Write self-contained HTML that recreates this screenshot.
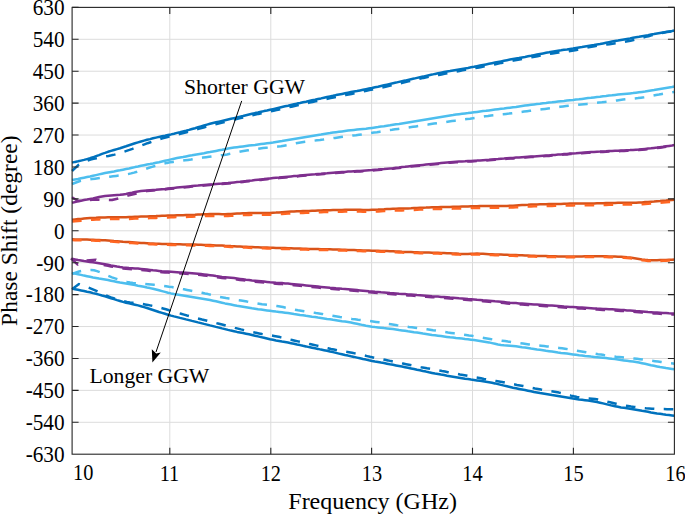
<!DOCTYPE html>
<html><head><meta charset="utf-8"><style>
html,body{margin:0;padding:0;background:#fff;width:685px;height:515px;overflow:hidden}
svg{display:block;font-family:"Liberation Serif",serif}
</style></head><body>
<svg width="685" height="515" viewBox="0 0 685 515">
<rect width="685" height="515" fill="#fff"/>
<g stroke="#dcdcdc" stroke-width="1" fill="none">
<line x1="72.1" y1="422.29" x2="674.4" y2="422.29"/>
<line x1="72.1" y1="390.37" x2="674.4" y2="390.37"/>
<line x1="72.1" y1="358.46" x2="674.4" y2="358.46"/>
<line x1="72.1" y1="326.54" x2="674.4" y2="326.54"/>
<line x1="72.1" y1="294.63" x2="674.4" y2="294.63"/>
<line x1="72.1" y1="262.71" x2="674.4" y2="262.71"/>
<line x1="72.1" y1="230.80" x2="674.4" y2="230.80"/>
<line x1="72.1" y1="198.89" x2="674.4" y2="198.89"/>
<line x1="72.1" y1="166.97" x2="674.4" y2="166.97"/>
<line x1="72.1" y1="135.06" x2="674.4" y2="135.06"/>
<line x1="72.1" y1="103.14" x2="674.4" y2="103.14"/>
<line x1="72.1" y1="71.23" x2="674.4" y2="71.23"/>
<line x1="72.1" y1="39.31" x2="674.4" y2="39.31"/>
<line x1="72.1" y1="7.40" x2="674.4" y2="7.40"/>
<line x1="169.8" y1="7.4" x2="169.8" y2="454.2"/>
<line x1="270.8" y1="7.4" x2="270.8" y2="454.2"/>
<line x1="371.6" y1="7.4" x2="371.6" y2="454.2"/>
<line x1="472.5" y1="7.4" x2="472.5" y2="454.2"/>
<line x1="573.4" y1="7.4" x2="573.4" y2="454.2"/>
</g>
<g fill="none" stroke-width="2.5" stroke-linejoin="round" stroke-linecap="butt">
<polyline points="72.0,219.7 75.0,219.4 78.0,219.1 81.0,218.9 84.0,218.6 87.0,218.3 90.0,218.1 93.0,217.9 96.0,217.8 99.0,217.6 102.0,217.5 105.0,217.4 108.0,217.3 111.0,217.3 114.0,217.3 117.0,217.3 120.0,217.3 123.0,217.2 126.0,217.2 129.0,217.1 132.0,217.0 135.0,216.8 138.0,216.7 141.0,216.6 144.0,216.5 147.0,216.4 150.0,216.3 153.0,216.2 156.0,216.1 159.0,215.9 162.0,215.8 165.0,215.7 168.0,215.6 171.0,215.5 174.0,215.4 177.0,215.3 180.0,215.3 183.0,215.2 186.0,215.1 189.0,215.0 192.0,214.9 195.0,214.8 198.0,214.6 201.0,214.5 204.0,214.3 207.0,214.2 210.0,214.1 213.0,214.1 216.0,214.1 219.0,214.1 222.0,214.2 225.0,214.2 228.0,214.1 231.0,214.0 234.0,213.8 237.0,213.6 240.0,213.4 243.0,213.3 246.0,213.2 249.0,213.1 252.0,213.0 255.0,213.0 258.0,213.0 261.0,213.0 264.0,213.0 267.0,212.9 270.0,212.9 273.0,212.7 276.0,212.6 279.0,212.4 282.0,212.2 285.0,212.0 288.0,211.8 291.0,211.6 294.0,211.5 297.0,211.3 300.0,211.2 303.0,211.1 306.0,211.0 309.0,210.9 312.0,210.8 315.0,210.7 318.0,210.6 321.0,210.5 324.0,210.3 327.0,210.3 330.0,210.2 333.0,210.1 336.0,210.0 339.0,209.9 342.0,209.9 345.0,209.8 348.0,209.8 351.0,209.8 354.0,209.8 357.0,209.8 360.0,209.8 363.0,209.9 366.0,209.9 369.0,209.9 372.0,209.8 375.0,209.7 378.0,209.6 381.0,209.4 384.0,209.3 387.0,209.1 390.0,209.0 393.0,208.8 396.0,208.7 399.0,208.6 402.0,208.6 405.0,208.5 408.0,208.4 411.0,208.3 414.0,208.1 417.0,208.0 420.0,207.8 423.0,207.7 426.0,207.6 429.0,207.4 432.0,207.3 435.0,207.2 438.0,207.2 441.0,207.1 444.0,207.0 447.0,207.0 450.0,206.9 453.0,206.8 456.0,206.7 459.0,206.7 462.0,206.6 465.0,206.5 468.0,206.4 471.0,206.3 474.0,206.2 477.0,206.2 480.0,206.1 483.0,206.0 486.0,206.0 489.0,206.0 492.0,205.9 495.0,205.9 498.0,205.9 501.0,205.9 504.0,205.9 507.0,205.9 510.0,205.8 513.0,205.7 516.0,205.5 519.0,205.3 522.0,205.1 525.0,204.9 528.0,204.8 531.0,204.6 534.0,204.5 537.0,204.4 540.0,204.3 543.0,204.3 546.0,204.2 549.0,204.1 552.0,204.1 555.0,204.0 558.0,203.9 561.0,203.9 564.0,203.8 567.0,203.7 570.0,203.6 573.0,203.6 576.0,203.5 579.0,203.5 582.0,203.5 585.0,203.5 588.0,203.4 591.0,203.4 594.0,203.4 597.0,203.3 600.0,203.3 603.0,203.2 606.0,203.1 609.0,203.0 612.0,202.9 615.0,202.9 618.0,202.8 621.0,202.8 624.0,202.8 627.0,202.8 630.0,202.8 633.0,202.7 636.0,202.7 639.0,202.5 642.0,202.4 645.0,202.1 648.0,201.9 651.0,201.7 654.0,201.5 657.0,201.2 660.0,201.0 663.0,200.7 666.0,200.5 669.0,200.2 672.0,199.9 674.5,199.7" stroke="#D95319"/>
<polyline points="72.0,221.5 75.0,221.2 78.0,220.9 81.0,220.7 84.0,220.4 87.0,220.1 90.0,219.9 93.0,219.7 96.0,219.6 99.0,219.4 102.0,219.3 105.0,219.2 108.0,219.1 111.0,219.1 114.0,219.1 117.0,219.1 120.0,219.1 123.0,219.0 126.0,219.0 129.0,218.9 132.0,218.8 135.0,218.6 138.0,218.5 141.0,218.4 144.0,218.3 147.0,218.2 150.0,218.1 153.0,218.0 156.0,217.9 159.0,217.7 162.0,217.6 165.0,217.5 168.0,217.4 171.0,217.3 174.0,217.2 177.0,217.1 180.0,217.1 183.0,217.0 186.0,216.9 189.0,216.8 192.0,216.7 195.0,216.6 198.0,216.4 201.0,216.3 204.0,216.1 207.0,216.0 210.0,215.9 213.0,215.9 216.0,215.9 219.0,215.9 222.0,216.0 225.0,216.0 228.0,215.9 231.0,215.8 234.0,215.6 237.0,215.4 240.0,215.2 243.0,215.1 246.0,215.0 249.0,214.9 252.0,214.8 255.0,214.8 258.0,214.8 261.0,214.8 264.0,214.8 267.0,214.7 270.0,214.7 273.0,214.5 276.0,214.4 279.0,214.2 282.0,214.0 285.0,213.8 288.0,213.6 291.0,213.4 294.0,213.3 297.0,213.1 300.0,213.0 303.0,212.9 306.0,212.8 309.0,212.7 312.0,212.6 315.0,212.5 318.0,212.4 321.0,212.3 324.0,212.1 327.0,212.1 330.0,212.0 333.0,211.9 336.0,211.8 339.0,211.7 342.0,211.7 345.0,211.6 348.0,211.6 351.0,211.6 354.0,211.6 357.0,211.6 360.0,211.6 363.0,211.7 366.0,211.7 369.0,211.7 372.0,211.6 375.0,211.5 378.0,211.4 381.0,211.2 384.0,211.1 387.0,210.9 390.0,210.8 393.0,210.6 396.0,210.5 399.0,210.4 402.0,210.4 405.0,210.3 408.0,210.2 411.0,210.1 414.0,209.9 417.0,209.8 420.0,209.6 423.0,209.5 426.0,209.4 429.0,209.2 432.0,209.1 435.0,209.0 438.0,209.0 441.0,208.9 444.0,208.8 447.0,208.8 450.0,208.7 453.0,208.6 456.0,208.5 459.0,208.5 462.0,208.4 465.0,208.3 468.0,208.2 471.0,208.1 474.0,208.0 477.0,208.0 480.0,207.9 483.0,207.8 486.0,207.8 489.0,207.8 492.0,207.7 495.0,207.7 498.0,207.7 501.0,207.7 504.0,207.7 507.0,207.7 510.0,207.6 513.0,207.5 516.0,207.3 519.0,207.1 522.0,206.9 525.0,206.7 528.0,206.6 531.0,206.4 534.0,206.3 537.0,206.2 540.0,206.1 543.0,206.1 546.0,206.0 549.0,205.9 552.0,205.9 555.0,205.8 558.0,205.7 561.0,205.7 564.0,205.6 567.0,205.5 570.0,205.4 573.0,205.4 576.0,205.3 579.0,205.3 582.0,205.3 585.0,205.3 588.0,205.2 591.0,205.2 594.0,205.2 597.0,205.1 600.0,205.1 603.0,205.0 606.0,204.9 609.0,204.8 612.0,204.7 615.0,204.7 618.0,204.6 621.0,204.6 624.0,204.6 627.0,204.6 630.0,204.6 633.0,204.5 636.0,204.5 639.0,204.3 642.0,204.2 645.0,203.9 648.0,203.7 651.0,203.5 654.0,203.3 657.0,203.0 660.0,202.8 663.0,202.5 666.0,202.3 669.0,202.0 672.0,201.7 674.5,201.5" stroke="#FF6622" stroke-dasharray="9.6 9.4"/>
<polyline points="72.0,239.3 75.0,239.4 78.0,239.4 81.0,239.5 84.0,239.6 87.0,239.6 90.0,239.7 93.0,239.8 96.0,239.9 99.0,240.0 102.0,240.2 105.0,240.3 108.0,240.5 111.0,240.7 114.0,241.0 117.0,241.2 120.0,241.4 123.0,241.7 126.0,241.9 129.0,242.1 132.0,242.3 135.0,242.5 138.0,242.7 141.0,242.9 144.0,243.0 147.0,243.2 150.0,243.4 153.0,243.5 156.0,243.7 159.0,243.8 162.0,243.9 165.0,244.0 168.0,244.0 171.0,244.1 174.0,244.2 177.0,244.2 180.0,244.3 183.0,244.4 186.0,244.4 189.0,244.5 192.0,244.6 195.0,244.6 198.0,244.7 201.0,244.8 204.0,244.9 207.0,245.0 210.0,245.1 213.0,245.2 216.0,245.4 219.0,245.5 222.0,245.6 225.0,245.8 228.0,245.9 231.0,246.1 234.0,246.2 237.0,246.4 240.0,246.5 243.0,246.7 246.0,246.8 249.0,247.0 252.0,247.1 255.0,247.2 258.0,247.3 261.0,247.4 264.0,247.5 267.0,247.6 270.0,247.7 273.0,247.8 276.0,247.9 279.0,248.0 282.0,248.1 285.0,248.1 288.0,248.2 291.0,248.3 294.0,248.4 297.0,248.5 300.0,248.6 303.0,248.7 306.0,248.8 309.0,248.9 312.0,249.0 315.0,249.1 318.0,249.1 321.0,249.2 324.0,249.2 327.0,249.2 330.0,249.3 333.0,249.4 336.0,249.5 339.0,249.6 342.0,249.7 345.0,249.8 348.0,249.9 351.0,250.0 354.0,250.1 357.0,250.2 360.0,250.3 363.0,250.4 366.0,250.5 369.0,250.6 372.0,250.7 375.0,250.7 378.0,250.8 381.0,250.9 384.0,251.0 387.0,251.1 390.0,251.2 393.0,251.3 396.0,251.5 399.0,251.6 402.0,251.8 405.0,251.9 408.0,252.0 411.0,252.1 414.0,252.2 417.0,252.3 420.0,252.4 423.0,252.4 426.0,252.5 429.0,252.6 432.0,252.7 435.0,252.7 438.0,252.8 441.0,252.9 444.0,253.0 447.0,253.2 450.0,253.3 453.0,253.4 456.0,253.6 459.0,253.8 462.0,253.9 465.0,254.0 468.0,253.9 471.0,253.8 474.0,253.7 477.0,253.6 480.0,253.7 483.0,253.8 486.0,254.0 489.0,254.2 492.0,254.3 495.0,254.4 498.0,254.5 501.0,254.6 504.0,254.7 507.0,254.8 510.0,254.9 513.0,255.0 516.0,255.1 519.0,255.2 522.0,255.3 525.0,255.5 528.0,255.6 531.0,255.7 534.0,255.8 537.0,255.9 540.0,256.0 543.0,256.0 546.0,256.1 549.0,256.2 552.0,256.3 555.0,256.3 558.0,256.4 561.0,256.4 564.0,256.4 567.0,256.4 570.0,256.4 573.0,256.5 576.0,256.4 579.0,256.4 582.0,256.4 585.0,256.3 588.0,256.3 591.0,256.2 594.0,256.2 597.0,256.2 600.0,256.2 603.0,256.3 606.0,256.3 609.0,256.4 612.0,256.5 615.0,256.6 618.0,256.7 621.0,256.8 624.0,257.0 627.0,257.3 630.0,257.5 633.0,257.9 636.0,258.4 639.0,258.9 642.0,259.4 645.0,259.8 648.0,260.1 651.0,260.2 654.0,260.3 657.0,260.2 660.0,260.1 663.0,260.0 666.0,259.9 669.0,259.8 672.0,259.7 674.5,259.6" stroke="#D95319"/>
<polyline points="72.0,240.1 75.0,240.2 78.0,240.2 81.0,240.3 84.0,240.4 87.0,240.4 90.0,240.5 93.0,240.6 96.0,240.7 99.0,240.8 102.0,241.0 105.0,241.1 108.0,241.3 111.0,241.5 114.0,241.8 117.0,242.0 120.0,242.2 123.0,242.5 126.0,242.7 129.0,242.9 132.0,243.1 135.0,243.3 138.0,243.5 141.0,243.7 144.0,243.8 147.0,244.0 150.0,244.2 153.0,244.3 156.0,244.5 159.0,244.6 162.0,244.7 165.0,244.8 168.0,244.8 171.0,244.9 174.0,245.0 177.0,245.0 180.0,245.1 183.0,245.2 186.0,245.2 189.0,245.3 192.0,245.4 195.0,245.4 198.0,245.5 201.0,245.6 204.0,245.7 207.0,245.8 210.0,245.9 213.0,246.0 216.0,246.2 219.0,246.3 222.0,246.4 225.0,246.6 228.0,246.7 231.0,246.9 234.0,247.0 237.0,247.2 240.0,247.3 243.0,247.5 246.0,247.6 249.0,247.8 252.0,247.9 255.0,248.0 258.0,248.1 261.0,248.2 264.0,248.3 267.0,248.4 270.0,248.5 273.0,248.6 276.0,248.7 279.0,248.8 282.0,248.9 285.0,248.9 288.0,249.0 291.0,249.1 294.0,249.2 297.0,249.3 300.0,249.4 303.0,249.5 306.0,249.6 309.0,249.7 312.0,249.8 315.0,249.9 318.0,249.9 321.0,250.0 324.0,250.0 327.0,250.0 330.0,250.1 333.0,250.2 336.0,250.3 339.0,250.4 342.0,250.5 345.0,250.6 348.0,250.7 351.0,250.8 354.0,250.9 357.0,251.0 360.0,251.1 363.0,251.2 366.0,251.3 369.0,251.4 372.0,251.5 375.0,251.5 378.0,251.6 381.0,251.7 384.0,251.8 387.0,251.9 390.0,252.0 393.0,252.1 396.0,252.3 399.0,252.4 402.0,252.6 405.0,252.7 408.0,252.8 411.0,252.9 414.0,253.0 417.0,253.1 420.0,253.2 423.0,253.2 426.0,253.3 429.0,253.4 432.0,253.5 435.0,253.5 438.0,253.6 441.0,253.7 444.0,253.8 447.0,254.0 450.0,254.1 453.0,254.2 456.0,254.4 459.0,254.6 462.0,254.7 465.0,254.8 468.0,254.7 471.0,254.6 474.0,254.5 477.0,254.4 480.0,254.5 483.0,254.6 486.0,254.8 489.0,255.0 492.0,255.1 495.0,255.2 498.0,255.3 501.0,255.4 504.0,255.5 507.0,255.6 510.0,255.7 513.0,255.8 516.0,255.9 519.0,256.0 522.0,256.1 525.0,256.3 528.0,256.4 531.0,256.5 534.0,256.6 537.0,256.7 540.0,256.8 543.0,256.8 546.0,256.9 549.0,257.0 552.0,257.1 555.0,257.1 558.0,257.2 561.0,257.2 564.0,257.2 567.0,257.2 570.0,257.2 573.0,257.3 576.0,257.2 579.0,257.2 582.0,257.2 585.0,257.1 588.0,257.1 591.0,257.0 594.0,257.0 597.0,257.0 600.0,257.0 603.0,257.1 606.0,257.1 609.0,257.2 612.0,257.3 615.0,257.4 618.0,257.5 621.0,257.6 624.0,257.8 627.0,258.1 630.0,258.3 633.0,258.7 636.0,259.2 639.0,259.7 642.0,260.2 645.0,260.6 648.0,260.9 651.0,261.0 654.0,261.1 657.0,261.0 660.0,260.9 663.0,260.8 666.0,260.7 669.0,260.6 672.0,260.5 674.5,260.4" stroke="#FF6622" stroke-dasharray="9.6 9.4"/>
<polyline points="72.0,202.8 75.0,202.1 78.0,201.4 81.0,200.7 84.0,200.1 87.0,199.6 90.0,199.0 93.0,198.4 96.0,197.7 99.0,197.1 102.0,196.5 105.0,196.0 108.0,195.7 111.0,195.4 114.0,195.2 117.0,195.0 120.0,194.8 123.0,194.4 126.0,194.0 129.0,193.3 132.0,192.7 135.0,192.0 138.0,191.4 141.0,191.0 144.0,190.7 147.0,190.4 150.0,190.2 153.0,190.0 156.0,189.8 159.0,189.5 162.0,189.2 165.0,188.9 168.0,188.5 171.0,188.2 174.0,187.9 177.0,187.6 180.0,187.3 183.0,187.0 186.0,186.7 189.0,186.4 192.0,186.1 195.0,185.8 198.0,185.6 201.0,185.3 204.0,185.0 207.0,184.7 210.0,184.4 213.0,184.2 216.0,183.9 219.0,183.7 222.0,183.5 225.0,183.2 228.0,183.0 231.0,182.7 234.0,182.4 237.0,182.1 240.0,181.8 243.0,181.4 246.0,181.1 249.0,180.7 252.0,180.4 255.0,180.0 258.0,179.7 261.0,179.4 264.0,179.1 267.0,178.7 270.0,178.4 273.0,178.1 276.0,177.8 279.0,177.6 282.0,177.3 285.0,177.0 288.0,176.7 291.0,176.4 294.0,176.1 297.0,175.9 300.0,175.6 303.0,175.3 306.0,175.0 309.0,174.7 312.0,174.4 315.0,174.2 318.0,173.9 321.0,173.7 324.0,173.4 327.0,173.2 330.0,172.9 333.0,172.7 336.0,172.5 339.0,172.3 342.0,172.1 345.0,171.9 348.0,171.6 351.0,171.5 354.0,171.3 357.0,171.1 360.0,170.9 363.0,170.7 366.0,170.5 369.0,170.3 372.0,170.1 375.0,169.8 378.0,169.6 381.0,169.3 384.0,169.1 387.0,168.8 390.0,168.5 393.0,168.2 396.0,167.8 399.0,167.5 402.0,167.1 405.0,166.8 408.0,166.4 411.0,166.1 414.0,165.8 417.0,165.5 420.0,165.2 423.0,164.9 426.0,164.6 429.0,164.3 432.0,164.0 435.0,163.7 438.0,163.4 441.0,163.1 444.0,162.8 447.0,162.5 450.0,162.2 453.0,162.0 456.0,161.8 459.0,161.6 462.0,161.4 465.0,161.3 468.0,161.1 471.0,160.9 474.0,160.7 477.0,160.6 480.0,160.4 483.0,160.2 486.0,160.0 489.0,159.8 492.0,159.5 495.0,159.3 498.0,159.1 501.0,158.8 504.0,158.6 507.0,158.3 510.0,158.1 513.0,157.9 516.0,157.6 519.0,157.4 522.0,157.2 525.0,157.0 528.0,156.8 531.0,156.6 534.0,156.4 537.0,156.2 540.0,156.0 543.0,155.8 546.0,155.6 549.0,155.4 552.0,155.1 555.0,154.9 558.0,154.6 561.0,154.4 564.0,154.1 567.0,153.9 570.0,153.6 573.0,153.4 576.0,153.2 579.0,152.9 582.0,152.7 585.0,152.5 588.0,152.3 591.0,152.1 594.0,151.9 597.0,151.7 600.0,151.6 603.0,151.4 606.0,151.3 609.0,151.1 612.0,151.0 615.0,150.8 618.0,150.7 621.0,150.5 624.0,150.4 627.0,150.2 630.0,150.1 633.0,149.9 636.0,149.7 639.0,149.5 642.0,149.2 645.0,148.9 648.0,148.6 651.0,148.3 654.0,147.9 657.0,147.6 660.0,147.2 663.0,146.8 666.0,146.3 669.0,145.9 672.0,145.5 674.5,145.1" stroke="#7E2F8E"/>
<polyline points="72.0,197.3 78.0,201.0 95.0,199.5 112.0,200.0 120.0,198.0 128.0,195.6 147.0,190.9 150.0,190.7 153.0,190.5 156.0,190.3 159.0,190.0 162.0,189.7 165.0,189.4 168.0,189.0 171.0,188.7 174.0,188.4 177.0,188.1 180.0,187.8 183.0,187.5 186.0,187.2 189.0,186.9 192.0,186.6 195.0,186.3 198.0,186.1 201.0,185.8 204.0,185.5 207.0,185.2 210.0,184.9 213.0,184.7 216.0,184.4 219.0,184.2 222.0,184.0 225.0,183.7 228.0,183.5 231.0,183.2 234.0,182.9 237.0,182.6 240.0,182.3 243.0,181.9 246.0,181.6 249.0,181.2 252.0,180.9 255.0,180.5 258.0,180.2 261.0,179.9 264.0,179.6 267.0,179.2 270.0,178.9 273.0,178.6 276.0,178.3 279.0,178.1 282.0,177.8 285.0,177.5 288.0,177.2 291.0,176.9 294.0,176.6 297.0,176.4 300.0,176.1 303.0,175.8 306.0,175.5 309.0,175.2 312.0,174.9 315.0,174.7 318.0,174.4 321.0,174.2 324.0,173.9 327.0,173.7 330.0,173.4 333.0,173.2 336.0,173.0 339.0,172.8 342.0,172.6 345.0,172.4 348.0,172.1 351.0,172.0 354.0,171.8 357.0,171.6 360.0,171.4 363.0,171.2 366.0,171.0 369.0,170.8 372.0,170.6 375.0,170.3 378.0,170.1 381.0,169.8 384.0,169.6 387.0,169.3 390.0,169.0 393.0,168.7 396.0,168.3 399.0,168.0 402.0,167.6 405.0,167.3 408.0,166.9 411.0,166.6 414.0,166.3 417.0,166.0 420.0,165.7 423.0,165.4 426.0,165.1 429.0,164.8 432.0,164.5 435.0,164.2 438.0,163.9 441.0,163.6 444.0,163.3 447.0,163.0 450.0,162.7 453.0,162.5 456.0,162.3 459.0,162.1 462.0,161.9 465.0,161.8 468.0,161.6 471.0,161.4 474.0,161.2 477.0,161.1 480.0,160.9 483.0,160.7 486.0,160.5 489.0,160.3 492.0,160.0 495.0,159.8 498.0,159.6 501.0,159.3 504.0,159.1 507.0,158.8 510.0,158.6 513.0,158.4 516.0,158.1 519.0,157.9 522.0,157.7 525.0,157.5 528.0,157.3 531.0,157.1 534.0,156.9 537.0,156.7 540.0,156.5 543.0,156.3 546.0,156.1 549.0,155.9 552.0,155.6 555.0,155.4 558.0,155.1 561.0,154.9 564.0,154.6 567.0,154.4 570.0,154.1 573.0,153.9 576.0,153.7 579.0,153.4 582.0,153.2 585.0,153.0 588.0,152.8 591.0,152.6 594.0,152.4 597.0,152.2 600.0,152.1 603.0,151.9 606.0,151.8 609.0,151.6 612.0,151.5 615.0,151.3 618.0,151.2 621.0,151.0 624.0,150.9 627.0,150.7 630.0,150.6 633.0,150.4 636.0,150.2 639.0,150.0 642.0,149.7 645.0,149.4 648.0,149.1 651.0,148.8 654.0,148.4 657.0,148.1 660.0,147.7 663.0,147.3 666.0,146.8 669.0,146.4 672.0,146.0 674.5,145.6" stroke="#7E2F8E" stroke-dasharray="9.6 9.4"/>
<polyline points="72.0,258.8 75.0,259.4 78.0,260.0 81.0,260.5 84.0,261.0 87.0,261.4 90.0,261.9 93.0,262.3 96.0,262.8 99.0,263.3 102.0,263.8 105.0,264.3 108.0,264.8 111.0,265.4 114.0,265.9 117.0,266.5 120.0,267.0 123.0,267.4 126.0,267.7 129.0,268.0 132.0,268.2 135.0,268.4 138.0,268.6 141.0,268.9 144.0,269.2 147.0,269.5 150.0,269.9 153.0,270.3 156.0,270.6 159.0,270.9 162.0,271.2 165.0,271.4 168.0,271.6 171.0,271.8 174.0,272.0 177.0,272.2 180.0,272.4 183.0,272.6 186.0,272.8 189.0,273.0 192.0,273.2 195.0,273.5 198.0,273.8 201.0,274.1 204.0,274.4 207.0,274.8 210.0,275.2 213.0,275.6 216.0,276.1 219.0,276.5 222.0,276.9 225.0,277.2 228.0,277.5 231.0,277.8 234.0,278.1 237.0,278.5 240.0,278.9 243.0,279.3 246.0,279.7 249.0,280.0 252.0,280.4 255.0,280.7 258.0,281.0 261.0,281.3 264.0,281.6 267.0,281.9 270.0,282.2 273.0,282.4 276.0,282.7 279.0,282.9 282.0,283.1 285.0,283.4 288.0,283.6 291.0,283.9 294.0,284.2 297.0,284.5 300.0,284.8 303.0,285.1 306.0,285.4 309.0,285.7 312.0,286.0 315.0,286.3 318.0,286.6 321.0,286.9 324.0,287.2 327.0,287.5 330.0,287.8 333.0,288.0 336.0,288.3 339.0,288.5 342.0,288.8 345.0,289.0 348.0,289.2 351.0,289.5 354.0,289.8 357.0,290.1 360.0,290.4 363.0,290.7 366.0,291.0 369.0,291.3 372.0,291.5 375.0,291.8 378.0,292.0 381.0,292.3 384.0,292.5 387.0,292.7 390.0,293.0 393.0,293.2 396.0,293.4 399.0,293.7 402.0,293.9 405.0,294.1 408.0,294.4 411.0,294.6 414.0,294.8 417.0,295.1 420.0,295.3 423.0,295.5 426.0,295.7 429.0,295.9 432.0,296.2 435.0,296.4 438.0,296.6 441.0,296.9 444.0,297.1 447.0,297.3 450.0,297.6 453.0,297.8 456.0,298.0 459.0,298.3 462.0,298.5 465.0,298.7 468.0,299.0 471.0,299.2 474.0,299.4 477.0,299.7 480.0,299.9 483.0,300.2 486.0,300.4 489.0,300.7 492.0,301.0 495.0,301.3 498.0,301.5 501.0,301.8 504.0,302.1 507.0,302.4 510.0,302.7 513.0,302.9 516.0,303.1 519.0,303.4 522.0,303.6 525.0,303.8 528.0,304.0 531.0,304.2 534.0,304.4 537.0,304.6 540.0,304.8 543.0,305.0 546.0,305.2 549.0,305.4 552.0,305.6 555.0,305.8 558.0,306.0 561.0,306.2 564.0,306.5 567.0,306.7 570.0,306.9 573.0,307.1 576.0,307.3 579.0,307.5 582.0,307.6 585.0,307.8 588.0,308.0 591.0,308.2 594.0,308.4 597.0,308.6 600.0,308.7 603.0,308.9 606.0,309.0 609.0,309.2 612.0,309.3 615.0,309.5 618.0,309.7 621.0,309.9 624.0,310.1 627.0,310.4 630.0,310.6 633.0,310.8 636.0,311.1 639.0,311.3 642.0,311.5 645.0,311.7 648.0,312.0 651.0,312.2 654.0,312.4 657.0,312.6 660.0,312.8 663.0,313.0 666.0,313.1 669.0,313.3 672.0,313.4 674.5,313.6" stroke="#7E2F8E"/>
<polyline points="71.0,258.3 77.7,264.6 86.0,260.5 96.0,259.8 102.0,264.8 105.0,265.3 108.0,265.8 111.0,266.4 114.0,266.9 117.0,267.5 120.0,268.0 123.0,268.4 126.0,268.7 129.0,269.0 132.0,269.2 135.0,269.4 138.0,269.6 141.0,269.9 144.0,270.2 147.0,270.5 150.0,270.9 153.0,271.3 156.0,271.6 159.0,271.9 162.0,272.2 165.0,272.4 168.0,272.6 171.0,272.8 174.0,273.0 177.0,273.2 180.0,273.4 183.0,273.6 186.0,273.8 189.0,274.0 192.0,274.2 195.0,274.5 198.0,274.8 201.0,275.1 204.0,275.4 207.0,275.8 210.0,276.2 213.0,276.6 216.0,277.1 219.0,277.5 222.0,277.9 225.0,278.2 228.0,278.5 231.0,278.8 234.0,279.1 237.0,279.5 240.0,279.9 243.0,280.3 246.0,280.7 249.0,281.0 252.0,281.4 255.0,281.7 258.0,282.0 261.0,282.3 264.0,282.6 267.0,282.9 270.0,283.2 273.0,283.4 276.0,283.7 279.0,283.9 282.0,284.1 285.0,284.4 288.0,284.6 291.0,284.9 294.0,285.2 297.0,285.5 300.0,285.8 303.0,286.1 306.0,286.4 309.0,286.7 312.0,287.0 315.0,287.3 318.0,287.6 321.0,287.9 324.0,288.2 327.0,288.5 330.0,288.8 333.0,289.0 336.0,289.3 339.0,289.5 342.0,289.8 345.0,290.0 348.0,290.2 351.0,290.5 354.0,290.8 357.0,291.1 360.0,291.4 363.0,291.7 366.0,292.0 369.0,292.3 372.0,292.5 375.0,292.8 378.0,293.0 381.0,293.3 384.0,293.5 387.0,293.7 390.0,294.0 393.0,294.2 396.0,294.4 399.0,294.7 402.0,294.9 405.0,295.1 408.0,295.4 411.0,295.6 414.0,295.8 417.0,296.1 420.0,296.3 423.0,296.5 426.0,296.7 429.0,296.9 432.0,297.2 435.0,297.4 438.0,297.6 441.0,297.9 444.0,298.1 447.0,298.3 450.0,298.6 453.0,298.8 456.0,299.0 459.0,299.3 462.0,299.5 465.0,299.7 468.0,300.0 471.0,300.2 474.0,300.4 477.0,300.7 480.0,300.9 483.0,301.2 486.0,301.4 489.0,301.7 492.0,302.0 495.0,302.3 498.0,302.5 501.0,302.8 504.0,303.1 507.0,303.4 510.0,303.7 513.0,303.9 516.0,304.1 519.0,304.4 522.0,304.6 525.0,304.8 528.0,305.0 531.0,305.2 534.0,305.4 537.0,305.6 540.0,305.8 543.0,306.0 546.0,306.2 549.0,306.4 552.0,306.6 555.0,306.8 558.0,307.0 561.0,307.2 564.0,307.5 567.0,307.7 570.0,307.9 573.0,308.1 576.0,308.3 579.0,308.5 582.0,308.6 585.0,308.8 588.0,309.0 591.0,309.2 594.0,309.4 597.0,309.6 600.0,309.7 603.0,309.9 606.0,310.0 609.0,310.2 612.0,310.3 615.0,310.5 618.0,310.7 621.0,310.9 624.0,311.1 627.0,311.4 630.0,311.6 633.0,311.8 636.0,312.1 639.0,312.3 642.0,312.5 645.0,312.7 648.0,313.0 651.0,313.2 654.0,313.4 657.0,313.6 660.0,313.8 663.0,314.0 666.0,314.1 669.0,314.3 672.0,314.4 674.5,314.6" stroke="#7E2F8E" stroke-dasharray="9.6 9.4"/>
<polyline points="72.0,180.0 75.0,179.4 78.0,178.9 81.0,178.3 84.0,177.7 87.0,177.1 90.0,176.5 93.0,175.8 96.0,175.1 99.0,174.4 102.0,173.7 105.0,173.1 108.0,172.5 111.0,171.9 114.0,171.4 117.0,170.8 120.0,170.3 123.0,169.7 126.0,169.1 129.0,168.5 132.0,167.8 135.0,167.1 138.0,166.5 141.0,165.8 144.0,165.2 147.0,164.6 150.0,164.1 153.0,163.5 156.0,162.8 159.0,162.2 162.0,161.5 165.0,160.8 168.0,160.1 171.0,159.4 174.0,158.7 177.0,158.1 180.0,157.5 183.0,157.0 186.0,156.4 189.0,155.8 192.0,155.3 195.0,154.7 198.0,154.2 201.0,153.7 204.0,153.2 207.0,152.6 210.0,152.1 213.0,151.5 216.0,150.9 219.0,150.3 222.0,149.8 225.0,149.2 228.0,148.6 231.0,148.1 234.0,147.6 237.0,147.2 240.0,146.8 243.0,146.4 246.0,146.0 249.0,145.6 252.0,145.2 255.0,144.9 258.0,144.5 261.0,144.1 264.0,143.7 267.0,143.3 270.0,142.9 273.0,142.5 276.0,142.0 279.0,141.5 282.0,141.1 285.0,140.6 288.0,140.1 291.0,139.6 294.0,139.1 297.0,138.6 300.0,138.1 303.0,137.6 306.0,137.1 309.0,136.6 312.0,136.1 315.0,135.6 318.0,135.1 321.0,134.6 324.0,134.0 327.0,133.5 330.0,133.1 333.0,132.6 336.0,132.2 339.0,131.8 342.0,131.4 345.0,131.0 348.0,130.6 351.0,130.2 354.0,129.9 357.0,129.6 360.0,129.3 363.0,129.0 366.0,128.7 369.0,128.3 372.0,127.9 375.0,127.5 378.0,127.1 381.0,126.6 384.0,126.2 387.0,125.7 390.0,125.3 393.0,124.8 396.0,124.3 399.0,123.9 402.0,123.4 405.0,122.9 408.0,122.4 411.0,121.9 414.0,121.4 417.0,120.9 420.0,120.4 423.0,119.9 426.0,119.4 429.0,118.9 432.0,118.4 435.0,117.9 438.0,117.4 441.0,116.9 444.0,116.4 447.0,115.9 450.0,115.5 453.0,115.1 456.0,114.6 459.0,114.2 462.0,113.8 465.0,113.4 468.0,113.1 471.0,112.7 474.0,112.3 477.0,111.9 480.0,111.5 483.0,111.1 486.0,110.8 489.0,110.4 492.0,110.0 495.0,109.6 498.0,109.2 501.0,108.8 504.0,108.5 507.0,108.1 510.0,107.7 513.0,107.3 516.0,106.9 519.0,106.4 522.0,106.0 525.0,105.6 528.0,105.2 531.0,104.8 534.0,104.4 537.0,104.0 540.0,103.7 543.0,103.3 546.0,103.0 549.0,102.6 552.0,102.3 555.0,101.9 558.0,101.6 561.0,101.3 564.0,101.0 567.0,100.6 570.0,100.3 573.0,100.0 576.0,99.6 579.0,99.3 582.0,98.9 585.0,98.5 588.0,98.1 591.0,97.8 594.0,97.4 597.0,97.0 600.0,96.7 603.0,96.3 606.0,96.0 609.0,95.6 612.0,95.3 615.0,94.9 618.0,94.6 621.0,94.3 624.0,94.0 627.0,93.7 630.0,93.4 633.0,93.1 636.0,92.7 639.0,92.3 642.0,91.9 645.0,91.5 648.0,91.0 651.0,90.5 654.0,90.1 657.0,89.6 660.0,89.1 663.0,88.6 666.0,88.1 669.0,87.6 672.0,87.1 674.5,86.6" stroke="#4DBEEE"/>
<polyline points="72.0,184.0 80.0,181.0 83.0,180.5 86.0,180.0 89.0,179.5 92.0,179.1 95.0,178.7 98.0,178.3 101.0,177.9 104.0,177.5 107.0,177.1 110.0,176.7 113.0,176.3 116.0,175.9 119.0,175.5 122.0,175.1 125.0,174.6 128.0,174.1 131.0,173.4 134.0,172.6 137.0,171.7 140.0,170.7 143.0,169.7 146.0,168.8 149.0,167.8 152.0,166.9 155.0,166.0 158.0,165.2 161.0,164.4 164.0,163.6 167.0,162.9 170.0,162.3 173.0,161.9 176.0,161.5 179.0,161.1 182.0,160.7 185.0,160.3 188.0,159.9 191.0,159.5 194.0,159.0 197.0,158.6 200.0,158.1 203.0,157.6 206.0,157.2 209.0,156.8 212.0,156.4 215.0,156.0 218.0,155.7 221.0,155.3 224.0,154.9 227.0,154.4 230.0,153.8 233.0,153.2 236.0,152.6 239.0,151.9 242.0,151.3 245.0,150.8 248.0,150.3 251.0,149.8 254.0,149.4 257.0,148.9 260.0,148.5 263.0,148.1 266.0,147.8 269.0,147.5 272.0,147.2 275.0,147.0 278.0,146.6 281.0,146.2 284.0,145.7 287.0,145.2 290.0,144.6 293.0,143.9 296.0,143.3 299.0,142.8 302.0,142.3 305.0,141.8 308.0,141.5 311.0,141.1 314.0,140.7 317.0,140.3 320.0,140.0 323.0,139.6 326.0,139.1 329.0,138.7 332.0,138.3 335.0,137.9 338.0,137.5 341.0,137.1 344.0,136.7 347.0,136.3 350.0,135.9 353.0,135.5 356.0,135.2 359.0,134.8 362.0,134.4 365.0,133.9 368.0,133.5 371.0,133.1 374.0,132.6 377.0,132.2 380.0,131.7 383.0,131.2 386.0,130.7 389.0,130.2 392.0,129.8 395.0,129.3 398.0,128.9 401.0,128.5 404.0,128.1 407.0,127.7 410.0,127.2 413.0,126.8 416.0,126.4 419.0,126.0 422.0,125.5 425.0,125.0 428.0,124.6 431.0,124.1 434.0,123.6 437.0,123.2 440.0,122.8 443.0,122.4 446.0,122.0 449.0,121.5 452.0,121.1 455.0,120.7 458.0,120.3 461.0,119.9 464.0,119.5 467.0,119.1 470.0,118.7 473.0,118.2 476.0,117.8 479.0,117.3 482.0,116.8 485.0,116.3 488.0,115.9 491.0,115.4 494.0,115.1 497.0,114.7 500.0,114.4 503.0,114.2 506.0,113.9 509.0,113.6 512.0,113.2 515.0,112.8 518.0,112.5 521.0,112.0 524.0,111.6 527.0,111.2 530.0,110.8 533.0,110.4 536.0,110.0 539.0,109.7 542.0,109.3 545.0,108.9 548.0,108.5 551.0,108.1 554.0,107.7 557.0,107.3 560.0,106.8 563.0,106.4 566.0,106.0 569.0,105.7 572.0,105.4 575.0,105.0 578.0,104.8 581.0,104.5 584.0,104.2 587.0,103.9 590.0,103.6 593.0,103.3 596.0,102.9 599.0,102.6 602.0,102.3 605.0,101.9 608.0,101.6 611.0,101.2 614.0,100.8 617.0,100.4 620.0,100.0 623.0,99.6 626.0,99.3 629.0,99.0 632.0,98.7 635.0,98.4 638.0,98.1 641.0,97.7 644.0,97.3 647.0,96.8 650.0,96.2 653.0,95.7 656.0,95.1 659.0,94.6 662.0,94.0 665.0,93.4 668.0,92.8 671.0,92.3 674.0,91.9 674.5,91.5" stroke="#4DBEEE" stroke-dasharray="9.6 9.4"/>
<polyline points="72.0,272.9 75.0,273.6 78.0,274.2 81.0,274.9 84.0,275.6 87.0,276.2 90.0,276.8 93.0,277.4 96.0,277.9 99.0,278.5 102.0,279.0 105.0,279.5 108.0,280.1 111.0,280.7 114.0,281.3 117.0,281.9 120.0,282.5 123.0,283.0 126.0,283.6 129.0,284.1 132.0,284.6 135.0,285.1 138.0,285.7 141.0,286.2 144.0,286.8 147.0,287.5 150.0,288.1 153.0,288.8 156.0,289.5 159.0,290.3 162.0,291.1 165.0,291.9 168.0,292.7 171.0,293.4 174.0,294.0 177.0,294.5 180.0,295.0 183.0,295.5 186.0,296.0 189.0,296.5 192.0,297.0 195.0,297.5 198.0,298.0 201.0,298.5 204.0,299.0 207.0,299.5 210.0,300.1 213.0,300.7 216.0,301.3 219.0,302.0 222.0,302.7 225.0,303.4 228.0,304.0 231.0,304.6 234.0,305.2 237.0,305.8 240.0,306.3 243.0,306.8 246.0,307.3 249.0,307.8 252.0,308.3 255.0,308.7 258.0,309.2 261.0,309.6 264.0,310.0 267.0,310.4 270.0,310.8 273.0,311.2 276.0,311.6 279.0,311.9 282.0,312.3 285.0,312.7 288.0,313.1 291.0,313.5 294.0,314.0 297.0,314.4 300.0,314.9 303.0,315.3 306.0,315.8 309.0,316.2 312.0,316.7 315.0,317.1 318.0,317.6 321.0,318.0 324.0,318.4 327.0,318.9 330.0,319.3 333.0,319.8 336.0,320.2 339.0,320.7 342.0,321.2 345.0,321.6 348.0,322.1 351.0,322.6 354.0,323.2 357.0,323.8 360.0,324.4 363.0,325.1 366.0,325.7 369.0,326.2 372.0,326.7 375.0,327.1 378.0,327.4 381.0,327.7 384.0,328.1 387.0,328.4 390.0,328.7 393.0,329.1 396.0,329.5 399.0,330.0 402.0,330.4 405.0,330.8 408.0,331.3 411.0,331.7 414.0,332.2 417.0,332.6 420.0,333.1 423.0,333.6 426.0,334.0 429.0,334.4 432.0,334.9 435.0,335.3 438.0,335.7 441.0,336.1 444.0,336.5 447.0,336.9 450.0,337.3 453.0,337.6 456.0,338.0 459.0,338.3 462.0,338.6 465.0,339.0 468.0,339.3 471.0,339.7 474.0,340.1 477.0,340.5 480.0,340.9 483.0,341.4 486.0,341.9 489.0,342.4 492.0,343.1 495.0,343.8 498.0,344.5 501.0,345.0 504.0,345.3 507.0,345.5 510.0,345.7 513.0,346.0 516.0,346.3 519.0,346.7 522.0,347.2 525.0,347.6 528.0,348.0 531.0,348.5 534.0,348.9 537.0,349.4 540.0,349.8 543.0,350.3 546.0,350.8 549.0,351.2 552.0,351.6 555.0,352.0 558.0,352.5 561.0,352.9 564.0,353.2 567.0,353.6 570.0,354.0 573.0,354.4 576.0,354.8 579.0,355.2 582.0,355.5 585.0,355.9 588.0,356.2 591.0,356.6 594.0,356.9 597.0,357.2 600.0,357.5 603.0,357.8 606.0,358.1 609.0,358.4 612.0,358.8 615.0,359.1 618.0,359.5 621.0,360.0 624.0,360.4 627.0,360.8 630.0,361.2 633.0,361.6 636.0,362.0 639.0,362.6 642.0,363.2 645.0,363.8 648.0,364.5 651.0,365.2 654.0,365.8 657.0,366.4 660.0,367.0 663.0,367.5 666.0,368.0 669.0,368.4 672.0,368.9 674.5,369.3" stroke="#4DBEEE"/>
<polyline points="72.0,274.0 79.0,271.5 82.0,270.9 85.0,270.4 88.0,270.1 91.0,270.0 94.0,270.3 97.0,271.1 100.0,272.3 103.0,273.6 106.0,275.0 109.0,276.2 112.0,277.4 115.0,278.4 118.0,279.4 121.0,280.3 124.0,281.1 127.0,281.9 130.0,282.5 133.0,283.0 136.0,283.3 139.0,283.5 142.0,283.7 145.0,284.0 148.0,284.2 151.0,284.5 154.0,284.8 157.0,285.1 160.0,285.4 163.0,285.8 166.0,286.2 169.0,286.7 172.0,287.1 175.0,287.7 178.0,288.2 181.0,288.8 184.0,289.3 187.0,289.9 190.0,290.5 193.0,291.1 196.0,291.6 199.0,292.2 202.0,292.8 205.0,293.5 208.0,294.1 211.0,294.8 214.0,295.5 217.0,296.2 220.0,296.9 223.0,297.5 226.0,298.1 229.0,298.6 232.0,299.1 235.0,299.6 238.0,300.1 241.0,300.5 244.0,301.0 247.0,301.6 250.0,302.1 253.0,302.7 256.0,303.2 259.0,303.7 262.0,304.2 265.0,304.6 268.0,305.0 271.0,305.3 274.0,305.7 277.0,306.1 280.0,306.5 283.0,307.1 286.0,307.7 289.0,308.4 292.0,309.1 295.0,309.7 298.0,310.3 301.0,310.8 304.0,311.3 307.0,311.7 310.0,312.1 313.0,312.5 316.0,313.0 319.0,313.4 322.0,313.9 325.0,314.5 328.0,315.0 331.0,315.6 334.0,316.1 337.0,316.6 340.0,317.1 343.0,317.5 346.0,318.0 349.0,318.4 352.0,318.9 355.0,319.3 358.0,319.7 361.0,320.0 364.0,320.4 367.0,320.7 370.0,321.1 373.0,321.5 376.0,321.9 379.0,322.3 382.0,322.8 385.0,323.3 388.0,323.8 391.0,324.2 394.0,324.7 397.0,325.2 400.0,325.6 403.0,326.0 406.0,326.4 409.0,326.9 412.0,327.3 415.0,327.7 418.0,328.1 421.0,328.5 424.0,328.9 427.0,329.3 430.0,329.7 433.0,330.2 436.0,330.6 439.0,331.1 442.0,331.6 445.0,332.0 448.0,332.5 451.0,332.9 454.0,333.3 457.0,333.7 460.0,334.1 463.0,334.5 466.0,334.9 469.0,335.4 472.0,335.8 475.0,336.4 478.0,336.9 481.0,337.5 484.0,338.0 487.0,338.5 490.0,339.0 493.0,339.5 496.0,339.9 499.0,340.3 502.0,340.7 505.0,341.1 508.0,341.6 511.0,342.0 514.0,342.4 517.0,342.8 520.0,343.2 523.0,343.6 526.0,344.0 529.0,344.4 532.0,344.7 535.0,345.0 538.0,345.4 541.0,345.7 544.0,346.0 547.0,346.4 550.0,346.7 553.0,347.1 556.0,347.5 559.0,347.9 562.0,348.3 565.0,348.7 568.0,349.2 571.0,349.7 574.0,350.2 577.0,350.7 580.0,351.2 583.0,351.7 586.0,352.2 589.0,352.7 592.0,353.2 595.0,353.7 598.0,354.2 601.0,354.6 604.0,355.1 607.0,355.5 610.0,355.9 613.0,356.3 616.0,356.7 619.0,357.0 622.0,357.3 625.0,357.6 628.0,357.9 631.0,358.2 634.0,358.5 637.0,358.8 640.0,359.2 643.0,359.6 646.0,360.0 649.0,360.4 652.0,360.8 655.0,361.2 658.0,361.6 661.0,362.0 664.0,362.4 667.0,362.8 670.0,363.2 673.0,363.5 674.5,363.8" stroke="#4DBEEE" stroke-dasharray="9.6 9.4"/>
<polyline points="72.0,162.6 75.0,161.9 78.0,161.3 81.0,160.6 84.0,159.9 87.0,159.1 90.0,158.3 93.0,157.3 96.0,156.2 99.0,155.1 102.0,153.9 105.0,152.9 108.0,151.8 111.0,150.9 114.0,150.0 117.0,149.1 120.0,148.2 123.0,147.2 126.0,146.3 129.0,145.3 132.0,144.3 135.0,143.3 138.0,142.4 141.0,141.5 144.0,140.6 147.0,139.8 150.0,139.1 153.0,138.3 156.0,137.6 159.0,136.9 162.0,136.3 165.0,135.7 168.0,135.0 171.0,134.4 174.0,133.7 177.0,132.9 180.0,132.2 183.0,131.4 186.0,130.7 189.0,129.9 192.0,129.0 195.0,128.2 198.0,127.3 201.0,126.4 204.0,125.5 207.0,124.6 210.0,123.8 213.0,123.0 216.0,122.3 219.0,121.6 222.0,120.9 225.0,120.2 228.0,119.5 231.0,118.8 234.0,118.1 237.0,117.4 240.0,116.7 243.0,116.0 246.0,115.2 249.0,114.5 252.0,113.8 255.0,113.1 258.0,112.5 261.0,111.8 264.0,111.1 267.0,110.5 270.0,109.8 273.0,109.1 276.0,108.4 279.0,107.7 282.0,107.0 285.0,106.3 288.0,105.7 291.0,105.0 294.0,104.3 297.0,103.6 300.0,103.0 303.0,102.3 306.0,101.7 309.0,101.0 312.0,100.3 315.0,99.7 318.0,99.0 321.0,98.4 324.0,97.7 327.0,97.0 330.0,96.4 333.0,95.8 336.0,95.1 339.0,94.5 342.0,93.9 345.0,93.3 348.0,92.7 351.0,92.1 354.0,91.5 357.0,91.0 360.0,90.4 363.0,89.8 366.0,89.2 369.0,88.6 372.0,88.0 375.0,87.3 378.0,86.7 381.0,86.0 384.0,85.3 387.0,84.6 390.0,83.9 393.0,83.2 396.0,82.6 399.0,81.9 402.0,81.2 405.0,80.6 408.0,79.9 411.0,79.2 414.0,78.6 417.0,77.9 420.0,77.2 423.0,76.6 426.0,75.9 429.0,75.2 432.0,74.6 435.0,73.9 438.0,73.3 441.0,72.7 444.0,72.1 447.0,71.5 450.0,71.0 453.0,70.4 456.0,69.9 459.0,69.4 462.0,68.9 465.0,68.4 468.0,67.9 471.0,67.3 474.0,66.8 477.0,66.2 480.0,65.6 483.0,65.0 486.0,64.4 489.0,63.8 492.0,63.2 495.0,62.6 498.0,62.0 501.0,61.4 504.0,60.8 507.0,60.2 510.0,59.6 513.0,59.0 516.0,58.5 519.0,58.0 522.0,57.4 525.0,56.9 528.0,56.3 531.0,55.8 534.0,55.2 537.0,54.6 540.0,54.0 543.0,53.4 546.0,52.8 549.0,52.3 552.0,51.7 555.0,51.2 558.0,50.7 561.0,50.3 564.0,49.8 567.0,49.4 570.0,48.9 573.0,48.5 576.0,48.0 579.0,47.5 582.0,47.1 585.0,46.6 588.0,46.1 591.0,45.6 594.0,45.1 597.0,44.5 600.0,44.0 603.0,43.4 606.0,42.8 609.0,42.2 612.0,41.6 615.0,41.0 618.0,40.5 621.0,39.9 624.0,39.4 627.0,38.9 630.0,38.4 633.0,37.8 636.0,37.3 639.0,36.8 642.0,36.2 645.0,35.7 648.0,35.2 651.0,34.6 654.0,34.1 657.0,33.5 660.0,33.0 663.0,32.5 666.0,32.0 669.0,31.5 672.0,31.1 674.5,30.6" stroke="#0072BD"/>
<polyline points="72.0,171.0 78.5,164.9 81.5,163.4 84.5,161.9 87.5,160.7 90.5,159.6 93.5,158.8 96.5,158.2 99.5,157.5 102.5,157.0 105.5,156.4 108.5,155.9 111.5,155.3 114.5,154.6 117.5,153.8 120.5,152.9 123.5,151.9 126.5,150.9 129.5,149.9 132.5,148.8 135.5,147.6 138.5,146.5 141.5,145.4 144.5,144.3 147.5,143.2 150.5,142.2 153.5,141.2 156.5,140.2 159.5,139.2 162.5,138.3 165.5,137.5 168.5,136.7 171.5,135.9 174.5,135.2 177.5,134.5 180.5,133.8 183.5,133.0 186.5,132.3 189.5,131.5 192.5,130.7 195.5,129.8 198.5,128.9 201.5,128.1 204.5,127.2 207.5,126.3 210.5,125.5 213.5,124.7 216.5,124.0 219.5,123.2 222.5,122.5 225.5,121.8 228.5,121.1 231.5,120.4 234.5,119.6 237.5,118.9 240.5,118.1 243.5,117.4 246.5,116.6 249.5,115.9 252.5,115.2 255.5,114.6 258.5,113.9 261.5,113.3 264.5,112.7 267.5,112.0 270.5,111.4 273.5,110.7 276.5,110.0 279.5,109.4 282.5,108.7 285.5,108.0 288.5,107.3 291.5,106.7 294.5,106.0 297.5,105.3 300.5,104.6 303.5,104.0 306.5,103.3 309.5,102.6 312.5,102.0 315.5,101.3 318.5,100.7 321.5,100.0 324.5,99.4 327.5,98.8 330.5,98.1 333.5,97.5 336.5,96.9 339.5,96.3 342.5,95.7 345.5,95.1 348.5,94.5 351.5,93.9 354.5,93.3 357.5,92.6 360.5,92.0 363.5,91.4 366.5,90.7 369.5,90.1 372.5,89.5 375.5,88.9 378.5,88.2 381.5,87.6 384.5,87.0 387.5,86.3 390.5,85.6 393.5,84.9 396.5,84.2 399.5,83.5 402.5,82.8 405.5,82.1 408.5,81.4 411.5,80.7 414.5,80.0 417.5,79.3 420.5,78.6 423.5,77.9 426.5,77.3 429.5,76.7 432.5,76.1 435.5,75.5 438.5,75.0 441.5,74.4 444.5,73.8 447.5,73.2 450.5,72.6 453.5,72.1 456.5,71.5 459.5,70.9 462.5,70.3 465.5,69.8 468.5,69.2 471.5,68.7 474.5,68.2 477.5,67.7 480.5,67.2 483.5,66.6 486.5,66.1 489.5,65.5 492.5,64.9 495.5,64.2 498.5,63.6 501.5,62.9 504.5,62.3 507.5,61.6 510.5,61.0 513.5,60.5 516.5,59.9 519.5,59.4 522.5,58.9 525.5,58.4 528.5,57.9 531.5,57.3 534.5,56.8 537.5,56.2 540.5,55.6 543.5,55.0 546.5,54.4 549.5,53.9 552.5,53.4 555.5,53.0 558.5,52.6 561.5,52.2 564.5,51.8 567.5,51.4 570.5,50.9 573.5,50.4 576.5,49.9 579.5,49.3 582.5,48.6 585.5,48.0 588.5,47.3 591.5,46.7 594.5,46.2 597.5,45.7 600.5,45.3 603.5,44.9 606.5,44.5 609.5,44.2 612.5,43.8 615.5,43.3 618.5,42.9 621.5,42.4 624.5,41.9 627.5,41.3 630.5,40.7 633.5,40.0 636.5,39.3 639.5,38.5 642.5,37.7 645.5,36.9 648.5,36.2 651.5,35.4 654.5,34.7 657.5,34.0 660.5,33.3 663.5,32.7 666.5,32.1 669.5,31.7 672.5,31.3 674.5,31.0" stroke="#0072BD" stroke-dasharray="9.6 9.4"/>
<polyline points="72.0,288.6 75.0,289.2 78.0,289.8 81.0,290.4 84.0,291.0 87.0,291.7 90.0,292.3 93.0,293.1 96.0,293.8 99.0,294.6 102.0,295.5 105.0,296.3 108.0,297.2 111.0,298.2 114.0,299.1 117.0,300.1 120.0,301.0 123.0,301.9 126.0,302.7 129.0,303.4 132.0,304.1 135.0,304.7 138.0,305.4 141.0,306.2 144.0,307.1 147.0,308.0 150.0,309.0 153.0,310.0 156.0,311.0 159.0,312.0 162.0,312.9 165.0,313.8 168.0,314.7 171.0,315.6 174.0,316.4 177.0,317.1 180.0,317.9 183.0,318.6 186.0,319.4 189.0,320.1 192.0,320.9 195.0,321.6 198.0,322.4 201.0,323.1 204.0,323.9 207.0,324.6 210.0,325.4 213.0,326.1 216.0,326.9 219.0,327.6 222.0,328.4 225.0,329.1 228.0,329.9 231.0,330.6 234.0,331.2 237.0,331.9 240.0,332.5 243.0,333.1 246.0,333.7 249.0,334.3 252.0,335.0 255.0,335.7 258.0,336.4 261.0,337.1 264.0,337.8 267.0,338.5 270.0,339.2 273.0,339.8 276.0,340.4 279.0,340.9 282.0,341.5 285.0,342.0 288.0,342.6 291.0,343.2 294.0,343.8 297.0,344.5 300.0,345.1 303.0,345.8 306.0,346.4 309.0,347.1 312.0,347.7 315.0,348.3 318.0,348.9 321.0,349.6 324.0,350.2 327.0,350.8 330.0,351.5 333.0,352.1 336.0,352.9 339.0,353.6 342.0,354.3 345.0,355.0 348.0,355.6 351.0,356.3 354.0,356.9 357.0,357.6 360.0,358.3 363.0,359.0 366.0,359.6 369.0,360.3 372.0,360.9 375.0,361.5 378.0,362.0 381.0,362.6 384.0,363.1 387.0,363.7 390.0,364.3 393.0,364.8 396.0,365.4 399.0,366.0 402.0,366.6 405.0,367.2 408.0,367.8 411.0,368.4 414.0,369.0 417.0,369.7 420.0,370.3 423.0,371.0 426.0,371.6 429.0,372.3 432.0,372.9 435.0,373.5 438.0,374.0 441.0,374.6 444.0,375.1 447.0,375.7 450.0,376.2 453.0,376.7 456.0,377.2 459.0,377.7 462.0,378.2 465.0,378.7 468.0,379.1 471.0,379.6 474.0,380.0 477.0,380.4 480.0,380.8 483.0,381.2 486.0,381.7 489.0,382.2 492.0,382.8 495.0,383.4 498.0,384.1 501.0,384.9 504.0,385.6 507.0,386.3 510.0,387.0 513.0,387.7 516.0,388.3 519.0,388.9 522.0,389.5 525.0,390.1 528.0,390.7 531.0,391.3 534.0,391.9 537.0,392.4 540.0,393.0 543.0,393.5 546.0,394.0 549.0,394.5 552.0,395.1 555.0,395.6 558.0,396.1 561.0,396.6 564.0,397.1 567.0,397.6 570.0,398.1 573.0,398.6 576.0,399.0 579.0,399.5 582.0,399.8 585.0,400.2 588.0,400.6 591.0,401.0 594.0,401.5 597.0,402.1 600.0,402.7 603.0,403.4 606.0,404.1 609.0,404.9 612.0,405.6 615.0,406.2 618.0,406.8 621.0,407.4 624.0,407.8 627.0,408.3 630.0,408.8 633.0,409.2 636.0,409.7 639.0,410.2 642.0,410.8 645.0,411.3 648.0,411.8 651.0,412.4 654.0,412.9 657.0,413.4 660.0,413.8 663.0,414.3 666.0,414.7 669.0,415.0 672.0,415.4 674.5,415.8" stroke="#0072BD"/>
<polyline points="72.0,289.2 79.0,284.1 82.0,285.2 85.0,286.3 88.0,287.4 91.0,288.6 94.0,289.9 97.0,291.2 100.0,292.6 103.0,294.0 106.0,295.4 109.0,296.6 112.0,297.8 115.0,298.8 118.0,299.7 121.0,300.5 124.0,301.3 127.0,301.9 130.0,302.4 133.0,302.8 136.0,303.2 139.0,303.5 142.0,303.9 145.0,304.4 148.0,304.9 151.0,305.6 154.0,306.2 157.0,307.0 160.0,307.7 163.0,308.5 166.0,309.3 169.0,310.2 172.0,311.0 175.0,312.0 178.0,312.9 181.0,313.7 184.0,314.6 187.0,315.5 190.0,316.3 193.0,317.1 196.0,317.9 199.0,318.7 202.0,319.5 205.0,320.2 208.0,321.0 211.0,321.7 214.0,322.5 217.0,323.3 220.0,324.0 223.0,324.8 226.0,325.6 229.0,326.3 232.0,327.1 235.0,327.9 238.0,328.6 241.0,329.4 244.0,330.1 247.0,330.8 250.0,331.5 253.0,332.2 256.0,332.8 259.0,333.4 262.0,334.0 265.0,334.5 268.0,334.9 271.0,335.4 274.0,335.9 277.0,336.5 280.0,337.1 283.0,337.8 286.0,338.5 289.0,339.3 292.0,340.0 295.0,340.7 298.0,341.4 301.0,342.1 304.0,342.7 307.0,343.4 310.0,344.1 313.0,344.7 316.0,345.4 319.0,346.1 322.0,346.9 325.0,347.6 328.0,348.3 331.0,349.0 334.0,349.6 337.0,350.2 340.0,350.7 343.0,351.2 346.0,351.7 349.0,352.2 352.0,352.7 355.0,353.4 358.0,354.0 361.0,354.7 364.0,355.4 367.0,356.1 370.0,356.8 373.0,357.4 376.0,358.1 379.0,358.7 382.0,359.2 385.0,359.8 388.0,360.4 391.0,361.1 394.0,361.7 397.0,362.3 400.0,363.0 403.0,363.6 406.0,364.2 409.0,364.8 412.0,365.4 415.0,366.0 418.0,366.6 421.0,367.2 424.0,367.7 427.0,368.3 430.0,368.8 433.0,369.4 436.0,369.9 439.0,370.5 442.0,371.1 445.0,371.6 448.0,372.2 451.0,372.7 454.0,373.3 457.0,373.8 460.0,374.4 463.0,374.9 466.0,375.5 469.0,376.1 472.0,376.6 475.0,377.2 478.0,377.7 481.0,378.3 484.0,378.9 487.0,379.4 490.0,379.9 493.0,380.5 496.0,381.0 499.0,381.5 502.0,382.0 505.0,382.6 508.0,383.2 511.0,383.7 514.0,384.3 517.0,384.9 520.0,385.4 523.0,386.0 526.0,386.6 529.0,387.2 532.0,387.9 535.0,388.5 538.0,389.0 541.0,389.6 544.0,390.1 547.0,390.6 550.0,391.1 553.0,391.5 556.0,392.0 559.0,392.6 562.0,393.3 565.0,394.1 568.0,394.8 571.0,395.6 574.0,396.3 577.0,396.9 580.0,397.4 583.0,397.8 586.0,398.1 589.0,398.4 592.0,398.7 595.0,399.1 598.0,399.6 601.0,400.2 604.0,400.9 607.0,401.6 610.0,402.3 613.0,403.0 616.0,403.7 619.0,404.3 622.0,404.9 625.0,405.5 628.0,406.0 631.0,406.5 634.0,406.9 637.0,407.3 640.0,407.6 643.0,408.0 646.0,408.3 649.0,408.5 652.0,408.7 655.0,408.9 658.0,409.0 661.0,409.1 664.0,409.1 667.0,409.2 670.0,409.3 673.0,409.3 674.5,409.3" stroke="#0072BD" stroke-dasharray="9.6 9.4"/>
</g>
<path d="M72.1 422.29h6.5M674.4 422.29h-6.5M72.1 390.37h6.5M674.4 390.37h-6.5M72.1 358.46h6.5M674.4 358.46h-6.5M72.1 326.54h6.5M674.4 326.54h-6.5M72.1 294.63h6.5M674.4 294.63h-6.5M72.1 262.71h6.5M674.4 262.71h-6.5M72.1 230.80h6.5M674.4 230.80h-6.5M72.1 198.89h6.5M674.4 198.89h-6.5M72.1 166.97h6.5M674.4 166.97h-6.5M72.1 135.06h6.5M674.4 135.06h-6.5M72.1 103.14h6.5M674.4 103.14h-6.5M72.1 71.23h6.5M674.4 71.23h-6.5M72.1 39.31h6.5M674.4 39.31h-6.5M72.1 7.40h6.5M674.4 7.40h-6.5M169.8 454.2v-6.5M169.8 7.4v6.5M270.8 454.2v-6.5M270.8 7.4v6.5M371.6 454.2v-6.5M371.6 7.4v6.5M472.5 454.2v-6.5M472.5 7.4v6.5M573.4 454.2v-6.5M573.4 7.4v6.5" stroke="#262626" stroke-width="1.1" fill="none"/>
<rect x="72.1" y="7.4" width="602.3" height="446.8" fill="none" stroke="#262626" stroke-width="1.1"/>
<g font-size="22.3" fill="#000" text-anchor="end">
<text transform="translate(64.6,462.00) scale(0.953,1)">-630</text>
<text transform="translate(64.6,430.09) scale(0.953,1)">-540</text>
<text transform="translate(64.6,398.17) scale(0.953,1)">-450</text>
<text transform="translate(64.6,366.26) scale(0.953,1)">-360</text>
<text transform="translate(64.6,334.34) scale(0.953,1)">-270</text>
<text transform="translate(64.6,302.43) scale(0.953,1)">-180</text>
<text transform="translate(64.6,270.51) scale(0.953,1)">-90</text>
<text transform="translate(64.6,238.60) scale(0.953,1)">0</text>
<text transform="translate(64.6,206.69) scale(0.953,1)">90</text>
<text transform="translate(64.6,174.77) scale(0.953,1)">180</text>
<text transform="translate(64.6,142.86) scale(0.953,1)">270</text>
<text transform="translate(64.6,110.94) scale(0.953,1)">360</text>
<text transform="translate(64.6,79.03) scale(0.953,1)">450</text>
<text transform="translate(64.6,47.11) scale(0.953,1)">540</text>
<text transform="translate(64.6,15.20) scale(0.953,1)">630</text>
</g>
<g font-size="23" fill="#000" text-anchor="middle">
<text transform="translate(83.2,479.6) scale(0.885,1)">10</text>
<text transform="translate(169.5,481.0) scale(0.885,1)">11</text>
<text transform="translate(270.8,481.0) scale(0.885,1)">12</text>
<text transform="translate(372.0,481.0) scale(0.885,1)">13</text>
<text transform="translate(472.5,481.0) scale(0.885,1)">14</text>
<text transform="translate(573.4,481.0) scale(0.885,1)">15</text>
<text transform="translate(675.4,481.0) scale(0.885,1)">16</text>
</g>
<text x="372.6" y="509.4" font-size="24" text-anchor="middle">Frequency (GHz)</text>
<text transform="translate(17,230.65) rotate(-90)" font-size="23.5" text-anchor="middle">Phase Shift (degree)</text>
<text x="184" y="93.9" font-size="21.7">Shorter GGW</text>
<text x="89.5" y="383.3" font-size="21.7">Longer GGW</text>
<line x1="241.7" y1="100.9" x2="156" y2="352" stroke="#000" stroke-width="1"/>
<path d="M152.4 362.6 L151.8 349.3 L156.2 353.4 L160.8 352.4 Z" fill="#000"/>
</svg>
</body></html>
